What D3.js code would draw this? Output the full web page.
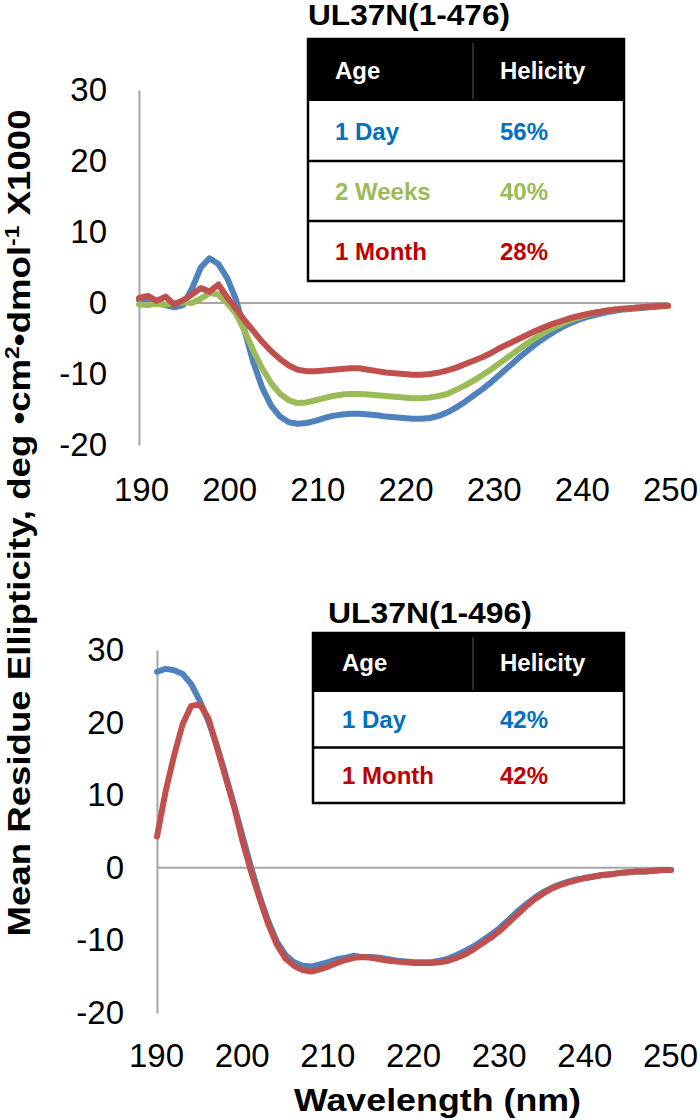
<!DOCTYPE html>
<html>
<head>
<meta charset="utf-8">
<script src="https://cdn.jsdelivr.net/npm/d3@7/dist/d3.min.js"></script>
<style>
  body { margin: 0; background: #fff; }
  svg { display: block; font-family: Arial, "Liberation Sans", sans-serif; }
</style>
</head>
<body>
<svg id="chart" width="700" height="1120"></svg>
<script>
// ---------------- DATA ----------------
const wavelengths = [190,191,192,193,194,195,196,197,198,199,200,201,202,203,204,205,206,207,208,209,210,
  211,212,213,214,215,216,217,218,219,220,221,222,223,224,225,226,227,228,229,230,
  231,232,233,234,235,236,237,238,239,240,241,242,243,244,245,246,247,248,249,250];

// Panel A: UL37N(1-476)
const topDay = [0.4,0.2,0,-0.3,-0.6,-0.3,2.0,5.0,6.3,5.5,3.5,0.5,-4,-8.5,-12,-14.5,-16,-16.8,-17,-16.9,-16.6,
  -16.2,-15.9,-15.7,-15.6,-15.6,-15.7,-15.8,-16,-16.1,-16.2,-16.3,-16.3,-16.2,-15.9,-15.4,-14.7,-13.9,-13,-12.1,-11.1,
  -10,-8.9,-7.8,-6.8,-5.8,-4.9,-4.1,-3.4,-2.8,-2.3,-1.9,-1.6,-1.3,-1.1,-0.9,-0.8,-0.7,-0.6,-0.5,-0.4];
const topWeeks = [-0.2,-0.3,-0.1,-0.2,0,0.1,0,0.6,1.4,1.2,0,-1.5,-4,-6.8,-9.3,-11.3,-12.8,-13.7,-14.1,-14,-13.7,
  -13.4,-13.1,-12.9,-12.8,-12.8,-12.9,-13,-13.1,-13.2,-13.3,-13.4,-13.4,-13.3,-13.1,-12.8,-12.2,-11.6,-10.9,-10.1,-9.3,
  -8.4,-7.5,-6.6,-5.7,-4.9,-4.1,-3.5,-2.9,-2.4,-2.0,-1.6,-1.3,-1.1,-0.9,-0.8,-0.7,-0.6,-0.5,-0.4,-0.4];
const topMonth = [0.7,1.0,0.3,0.9,-0.2,0.4,1.2,2.1,1.6,2.6,0.8,-0.8,-2.5,-4.0,-5.5,-6.8,-7.9,-8.8,-9.4,-9.6,-9.6,
  -9.5,-9.4,-9.3,-9.2,-9.2,-9.4,-9.6,-9.8,-9.9,-10.0,-10.1,-10.1,-10.0,-9.8,-9.5,-9.1,-8.6,-8.1,-7.6,-7.0,
  -6.3,-5.7,-5.1,-4.5,-3.9,-3.4,-2.9,-2.5,-2.1,-1.8,-1.5,-1.3,-1.1,-0.9,-0.8,-0.7,-0.6,-0.5,-0.4,-0.4];

// Panel B: UL37N(1-496)
const bottomDay = [27.0,27.4,27.2,26.7,25.3,23.0,20.2,16.8,12.8,8.6,4.3,0.0,-4.0,-7.4,-10.2,-12.0,-13.0,-13.5,-13.6,-13.3,-13.0,
  -12.6,-12.4,-12.1,-12.3,-12.3,-12.4,-12.6,-12.8,-12.9,-13.0,-13.0,-13.0,-12.8,-12.5,-12.0,-11.4,-10.8,-10.0,-9.2,-8.3,
  -7.2,-6.1,-5.1,-4.2,-3.4,-2.8,-2.3,-1.9,-1.6,-1.4,-1.2,-1.0,-0.9,-0.7,-0.6,-0.5,-0.5,-0.4,-0.3,-0.3];
const bottomMonth = [4.3,10.5,15.5,19.8,22.3,22.5,20.6,16.6,12.5,8.4,3.6,-0.6,-4.3,-7.8,-10.6,-12.5,-13.5,-14.1,-14.3,-14.0,-13.6,
  -13.1,-12.7,-12.4,-12.3,-12.4,-12.6,-12.8,-12.9,-13.0,-13.1,-13.1,-13.1,-13.0,-12.8,-12.4,-11.9,-11.2,-10.4,-9.6,-8.7,
  -7.6,-6.5,-5.4,-4.4,-3.6,-2.9,-2.4,-2.0,-1.7,-1.4,-1.2,-1.0,-0.9,-0.7,-0.6,-0.5,-0.5,-0.4,-0.3,-0.3];

const xTicks = [190,200,210,220,230,240,250];
const yTicks = [30,20,10,0,-10,-20];

const topTitle = "UL37N(1-476)";
const bottomTitle = "UL37N(1-496)";
const tableHeader = ["Age","Helicity"];
const topAges = ["1 Day","2 Weeks","1 Month"];
const topHelicity = ["56%","40%","28%"];
const bottomAges = ["1 Day","1 Month"];
const bottomHelicity = ["42%","42%"];

const xLabel = "Wavelength (nm)";

// ---------------- STYLE ----------------
const lineColors = { day: "#4F81BD", weeks: "#9BBB59", month: "#C0504D" };
const textColors = { day: "#0070C0", weeks: "#9BBB59", month: "#C00000" };
const axisColor = "#A6A6A6";

const svg = d3.select("#chart");
const fmt = d => String(d);  // plain hyphen-minus like the reference

function drawPanel(cfg) {
  const x = d3.scaleLinear().domain([190, 250]).range([cfg.x0, cfg.x1]);
  const y = d3.scaleLinear().domain([-20, 30]).range([cfg.yBottom, cfg.yTop]);
  const g = svg.append("g");

  // y axis
  const yAxis = d3.axisLeft(y).tickValues(yTicks).tickSize(0).tickSizeOuter(0).tickPadding(cfg.yPad)
    .tickFormat(fmt);
  const ya = g.append("g").attr("transform", `translate(${cfg.x0},0)`).call(yAxis);
  ya.select(".domain").attr("stroke", axisColor).attr("stroke-width", 2);
  ya.selectAll("text").attr("font-size", 33).attr("fill", "#000")
    .attr("font-family", 'Arial, "Liberation Sans", sans-serif');

  // x axis labels (no line)
  const xAxis = d3.axisBottom(x).tickValues(xTicks).tickSize(0).tickPadding(cfg.xPad).tickFormat(fmt);
  const xa = g.append("g").attr("transform", `translate(0,${y(-20)})`).call(xAxis);
  xa.select(".domain").remove();
  xa.selectAll("text").attr("font-size", 33).attr("fill", "#000").attr("dx", cfg.xdx)
    .attr("font-family", 'Arial, "Liberation Sans", sans-serif');

  // zero line
  g.append("line").attr("x1", x(190)).attr("x2", x(250)).attr("y1", y(0)).attr("y2", y(0))
    .attr("stroke", axisColor).attr("stroke-width", 2);

  // series
  const line = d3.line().x((d, i) => x(wavelengths[i])).y(d => y(d));
  cfg.series.forEach(s => {
    g.append("path").datum(s.values).attr("d", line).attr("fill", "none")
      .attr("stroke", s.color).attr("stroke-width", 6)
      .attr("stroke-linejoin", "round").attr("stroke-linecap", "round");
  });

  // title
  g.append("text").attr("x", cfg.title.x).attr("y", cfg.title.y).text(cfg.title.text)
    .attr("font-size", 29).attr("font-weight", "bold").attr("fill", "#000")
    .attr("textLength", cfg.title.w).attr("lengthAdjust", "spacingAndGlyphs");

  // table
  const t = cfg.table;
  const tg = g.append("g");
  const totalH = t.headH + t.rowH * t.ages.length;
  tg.append("rect").attr("x", t.x).attr("y", t.y).attr("width", t.w).attr("height", totalH)
    .attr("fill", "#fff");
  tg.append("rect").attr("x", t.x).attr("y", t.y).attr("width", t.w).attr("height", t.headH)
    .attr("fill", "#000");
  tg.append("line").attr("x1", t.divX).attr("x2", t.divX).attr("y1", t.y + 4).attr("y2", t.y + t.headH - 2)
    .attr("stroke", "#3a3a3a").attr("stroke-width", 1.5);
  tg.append("text").attr("x", t.c1).attr("y", t.y + t.headH / 2 + 8.5).text(tableHeader[0])
    .attr("font-size", 24).attr("font-weight", "bold").attr("fill", "#fff");
  tg.append("text").attr("x", t.c2).attr("y", t.y + t.headH / 2 + 8.5).text(tableHeader[1])
    .attr("font-size", 24).attr("font-weight", "bold").attr("fill", "#fff");
  t.ages.forEach((a, i) => {
    const ry = t.y + t.headH + i * t.rowH;
    const col = t.colors[i];
    tg.append("text").attr("x", t.c1).attr("y", ry + t.rowH / 2 + 8.5).text(a)
      .attr("font-size", 24).attr("font-weight", "bold").attr("fill", col);
    tg.append("text").attr("x", t.c2).attr("y", ry + t.rowH / 2 + 8.5).text(t.hel[i])
      .attr("font-size", 24).attr("font-weight", "bold").attr("fill", col);
    if (i > 0) {
      tg.append("line").attr("x1", t.x).attr("x2", t.x + t.w).attr("y1", ry).attr("y2", ry)
        .attr("stroke", "#000").attr("stroke-width", 2.5);
    }
  });
  tg.append("rect").attr("x", t.x).attr("y", t.y).attr("width", t.w).attr("height", totalH)
    .attr("fill", "none").attr("stroke", "#000").attr("stroke-width", 2.5);
}

drawPanel({
  x0: 139, x1: 668, yTop: 90, yBottom: 445, yPad: 32, xPad: 33, xdx: 2,
  series: [
    { values: topDay, color: lineColors.day },
    { values: topWeeks, color: lineColors.weeks },
    { values: topMonth, color: lineColors.month }
  ],
  title: { text: topTitle, x: 308, y: 25, w: 202 },
  table: { x: 308, y: 39, w: 316, headH: 62, rowH: 60, divX: 473, c1: 335, c2: 500,
    ages: topAges, hel: topHelicity, colors: [textColors.day, textColors.weeks, textColors.month] }
});

drawPanel({
  x0: 157, x1: 671, yTop: 650, yBottom: 1013, yPad: 33, xPad: 31, xdx: -1,
  series: [
    { values: bottomDay, color: lineColors.day },
    { values: bottomMonth, color: lineColors.month }
  ],
  title: { text: bottomTitle, x: 328, y: 623, w: 204 },
  table: { x: 313, y: 633, w: 311, headH: 59, rowH: 55.5, divX: 473, c1: 342, c2: 500,
    ages: bottomAges, hel: bottomHelicity, colors: [textColors.day, textColors.month] }
});

// x axis title
svg.append("text").attr("x", 294).attr("y", 1111).text(xLabel)
  .attr("font-size", 32).attr("font-weight", "bold").attr("fill", "#000")
  .attr("textLength", 287).attr("lengthAdjust", "spacingAndGlyphs");

// y axis title (rotated)
const yl = svg.append("text").attr("transform", "translate(30,523) rotate(-90)")
  .attr("text-anchor", "middle").attr("font-size", 32).attr("font-weight", "bold").attr("fill", "#000")
  .attr("textLength", 827).attr("lengthAdjust", "spacingAndGlyphs");
yl.append("tspan").text("Mean Residue Ellipticity, deg \u2022cm");
yl.append("tspan").attr("font-size", 20).attr("dy", -11).text("2");
yl.append("tspan").attr("dy", 11).text("\u2022dmol");
yl.append("tspan").attr("font-size", 20).attr("dy", -11).text("-1");
yl.append("tspan").attr("dy", 11).text("  X1000");
</script>
</body>
</html>
